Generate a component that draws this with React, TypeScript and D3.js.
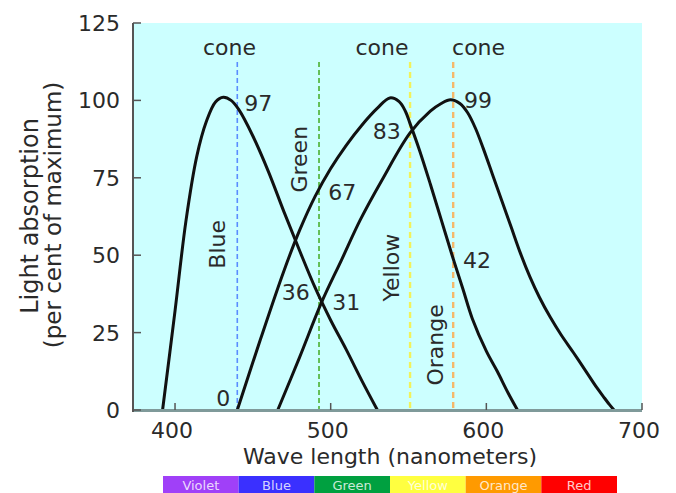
import React from "react";
import * as d3 from "d3";

// ---- data ----
const blueWl = [392, 400, 407, 414, 420, 426, 431, 436, 441, 450, 460, 470, 480, 490, 500, 510, 520, 530];
const blueVal = [0, 32, 61, 82, 93, 99.5, 101, 100, 97, 88.5, 77, 64, 51.5, 39.5, 29, 19.5, 9.5, 0];

const greenWl = [440, 455, 470, 480, 490, 500, 510, 520, 530, 538, 544, 548, 551, 557, 564, 571, 578, 585, 591, 600, 607, 614, 620];
const greenVal = [0, 23, 45, 58, 69, 78, 85.5, 92, 97.5, 100.8, 99.6, 96.5, 92.5, 84, 73, 61.5, 50, 39, 29.5, 19, 12.5, 5.5, 0];

const redWl = [466, 480, 494, 507, 519, 533, 551, 564, 571, 577, 583, 588, 593, 598, 604, 610, 616, 622, 628, 634, 641, 648, 656, 664, 671, 676, 679, 682];
const redVal = [0, 17, 34.6, 48.5, 61.4, 74.3, 89.5, 96.5, 99, 100.2, 99, 96, 91, 84.5, 76, 67.5, 59, 50.5, 43, 36.5, 30, 24.3, 18.5, 12.5, 7.2, 3.8, 1.8, 0];

const markerWl = [440, 492.5, 551, 578.7];
const markerColors = ["#5b8cff", "#4cb030", "#f2f25a", "#f5b86a"];

const xTicks = [400, 500, 600, 700];
const yTicks = [0, 25, 50, 75, 100, 125];

const coneLabels = [
  { wl: 435, text: "cone" },
  { wl: 533, text: "cone" },
  { wl: 595, text: "cone" },
];
const rotLabels = [
  { wl: 427, v: 53.5, text: "Blue" },
  { wl: 480, v: 81, text: "Green" },
  { wl: 539, v: 46, text: "Yellow" },
  { wl: 567, v: 21, text: "Orange" },
];
const numLabels = [
  { wl: 453.5, v: 99, text: "97" },
  { wl: 536, v: 90, text: "83" },
  { wl: 594.6, v: 100, text: "99" },
  { wl: 507.5, v: 70.5, text: "67" },
  { wl: 477.5, v: 38, text: "36" },
  { wl: 510, v: 35, text: "31" },
  { wl: 594, v: 48.5, text: "42" },
  { wl: 431, v: 4, text: "0" },
];

const spectrumNames = ["Violet", "Blue", "Green", "Yellow", "Orange", "Red"];
const spectrumColors = ["#a040f8", "#3a30ff", "#00a040", "#ffff40", "#ff9a00", "#ff0000"];

// ---- layout ----
const W = 676;
const H = 493;
const L = 133, R = 642, T = 23, B = 410;

export default function App() {
  const x = d3.scaleLinear().domain([373, 700]).range([L, R]);
  const y = d3.scaleLinear().domain([0, 125]).range([B, T]);
  const line = d3
    .line<[number, number]>()
    .x((d) => x(d[0]))
    .y((d) => y(d[1]))
    .curve(d3.curveCatmullRom.alpha(0.5));

  const curves = [
    d3.zip(blueWl, blueVal) as [number, number][],
    d3.zip(greenWl, greenVal) as [number, number][],
    d3.zip(redWl, redVal) as [number, number][],
  ];

  const font = "DejaVu Sans, Verdana, sans-serif";
  const txt = "#2a2a2a";

  const band = d3.scaleBand<string>().domain(spectrumNames).range([163, 617]).padding(0);

  return (
    <svg
      width={W}
      height={H}
      style={{ position: "absolute", left: 0, top: 0, background: "#fff" }}
      fontFamily={font}
    >
      <rect x={L} y={T} width={R - L} height={B - T} fill="#ccffff" />

      {/* dashed markers */}
      {markerWl.map((wl, i) => (
        <line
          key={i}
          x1={x(wl)}
          x2={x(wl)}
          y1={62}
          y2={B}
          stroke={markerColors[i]}
          strokeWidth={i < 2 ? 1.6 : 2.4}
          strokeDasharray={i < 2 ? "5 3" : "6 4"}
        />
      ))}

      {/* curves */}
      {curves.map((c, i) => (
        <path key={i} d={line(c) || ""} fill="none" stroke="#111" strokeWidth={3} strokeLinejoin="round" />
      ))}

      {/* axes */}
      <line x1={L} x2={R} y1={B + 0.5} y2={B + 0.5} stroke="#7f9a9a" strokeWidth={3} />
      <line x1={L} x2={L} y1={T} y2={B + 2} stroke="#555" strokeWidth={2} />
      {yTicks.map((t) => (
        <g key={t}>
          <line x1={L} x2={L + 8} y1={y(t)} y2={y(t)} stroke="#555" strokeWidth={1.5} />
          <text x={120} y={y(t)} dy="0.36em" textAnchor="end" fontSize={22} fill={txt}>
            {t}
          </text>
        </g>
      ))}
      {xTicks.map((t) => (
        <g key={t}>
          <line x1={x(t)} x2={x(t)} y1={B} y2={B - 7} stroke="#555" strokeWidth={1.5} />
          <text x={x(t) - 3} y={430} dy="0.36em" textAnchor="middle" fontSize={22} fill={txt}>
            {t}
          </text>
        </g>
      ))}

      {/* axis titles */}
      <text
        transform={`translate(29,216) rotate(-90)`}
        textAnchor="middle"
        dy="0.36em"
        fontSize={24}
        fill={txt}
      >
        Light absorption
      </text>
      <text
        transform={`translate(53,215) rotate(-90)`}
        textAnchor="middle"
        dy="0.36em"
        fontSize={23}
        fill={txt}
      >
        (per cent of maximum)
      </text>
      <text x={390} y={456} dy="0.36em" textAnchor="middle" fontSize={22} fill={txt}>
        Wave length (nanometers)
      </text>

      {/* cone labels */}
      {coneLabels.map((c, i) => (
        <text key={i} x={x(c.wl)} y={47} dy="0.36em" textAnchor="middle" fontSize={22} fill={txt}>
          {c.text}
        </text>
      ))}
      {rotLabels.map((c, i) => (
        <text
          key={i}
          transform={`translate(${x(c.wl)},${y(c.v)}) rotate(-90)`}
          textAnchor="middle"
          dy="0.36em"
          fontSize={22}
          fill={txt}
        >
          {c.text}
        </text>
      ))}
      {numLabels.map((c, i) => (
        <text key={i} x={x(c.wl)} y={y(c.v)} dy="0.36em" textAnchor="middle" fontSize={22} fill={txt}>
          {c.text}
        </text>
      ))}

      {/* spectrum bar */}
      {spectrumNames.map((n, i) => (
        <g key={n}>
          <rect x={band(n)} y={476} width={band.bandwidth()} height={17} fill={spectrumColors[i]} />
          <text
            x={(band(n) || 0) + band.bandwidth() / 2}
            y={485}
            dy="0.36em"
            textAnchor="middle"
            fontSize={13}
            fill="#fff"
            fillOpacity={0.8}
          >
            {n}
          </text>
        </g>
      ))}
    </svg>
  );
}
